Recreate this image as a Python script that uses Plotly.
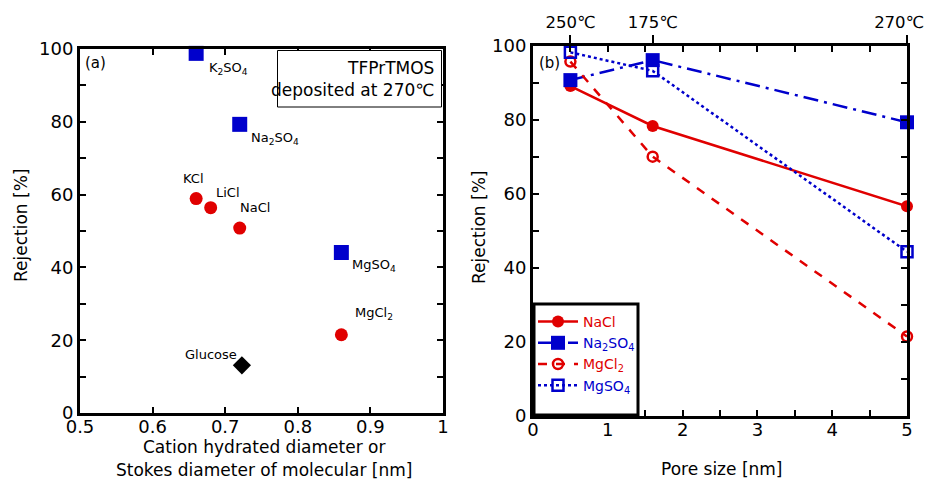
import plotly.graph_objects as go

# ---------------- data ----------------
# Panel (a)
sulfate_names = ["K<sub>2</sub>SO<sub>4</sub>", "Na<sub>2</sub>SO<sub>4</sub>", "MgSO<sub>4</sub>"]
sulfate_x = [0.66, 0.72, 0.86]
sulfate_y = [98.8, 79.3, 44.1]

chloride_names = ["KCl", "LiCl", "NaCl", "MgCl<sub>2</sub>"]
chloride_x = [0.66, 0.68, 0.72, 0.86]
chloride_y = [58.9, 56.4, 50.8, 21.5]

glucose_name = ["Glucose"]
glucose_x = [0.723]
glucose_y = [13.1]

# Panel (b)
pore_size = [0.5, 1.6, 5.0]
deposition_temp = ["250℃", "175℃", "270℃"]
nacl = [89.1, 78.3, 56.6]
na2so4 = [90.7, 96.1, 79.3]
mgcl2 = [95.7, 70.0, 21.4]
mgso4 = [98.2, 93.2, 44.3]

RED = "#E00000"
BLUE = "#0000CC"
FONT = "DejaVu Sans"
W, H = 928, 481

def px_x(p):
    return p / W

def px_y(p):
    return 1 - p / H

fig = go.Figure()

# ---------------- panel (a) ----------------
fig.add_trace(go.Scatter(x=sulfate_x, y=sulfate_y, mode="markers", xaxis="x", yaxis="y",
                         marker=dict(symbol="square", size=15, color=BLUE), showlegend=False,
                         cliponaxis=False))
fig.add_trace(go.Scatter(x=chloride_x, y=chloride_y, mode="markers", xaxis="x", yaxis="y",
                         marker=dict(symbol="circle", size=13, color=RED), showlegend=False,
                         cliponaxis=False))
fig.add_trace(go.Scatter(x=glucose_x, y=glucose_y, mode="markers", xaxis="x", yaxis="y",
                         marker=dict(symbol="diamond", size=14, color="black"), showlegend=False,
                         cliponaxis=False))

# ---------------- panel (b) ----------------
fig.add_trace(go.Scatter(x=pore_size, y=nacl, mode="lines+markers", xaxis="x2", yaxis="y2",
                         name=f"<span style='color:{RED}'>NaCl</span>",
                         line=dict(color=RED, width=2.5, dash="solid"),
                         marker=dict(symbol="circle", size=12, color=RED), cliponaxis=False))
fig.add_trace(go.Scatter(x=pore_size, y=na2so4, mode="lines+markers", xaxis="x2", yaxis="y2",
                         name=f"<span style='color:{BLUE}'>Na<sub>2</sub>SO<sub>4</sub></span>",
                         line=dict(color=BLUE, width=2.5, dash="longdashdot"),
                         marker=dict(symbol="square", size=14, color=BLUE), cliponaxis=False))
fig.add_trace(go.Scatter(x=pore_size, y=mgcl2, mode="lines+markers", xaxis="x2", yaxis="y2",
                         name=f"<span style='color:{RED}'>MgCl<sub>2</sub></span>",
                         line=dict(color=RED, width=2.5, dash="dash"),
                         marker=dict(symbol="circle-open", size=10, color=RED, line=dict(width=2.5)),
                         cliponaxis=False))
fig.add_trace(go.Scatter(x=pore_size, y=mgso4, mode="lines+markers", xaxis="x2", yaxis="y2",
                         name=f"<span style='color:{BLUE}'>MgSO<sub>4</sub></span>",
                         line=dict(color=BLUE, width=2.5, dash="dot"),
                         marker=dict(symbol="square-open", size=11, color=BLUE, line=dict(width=2.5)),
                         cliponaxis=False))
# invisible trace to carry the top (deposition temperature) axis
fig.add_trace(go.Scatter(x=pore_size, y=nacl, mode="markers", xaxis="x3", yaxis="y2",
                         marker=dict(opacity=0), showlegend=False, hoverinfo="skip"))

axis_common = dict(showline=True, linecolor="black", linewidth=3, mirror="ticks",
                   ticks="inside", ticklen=6, tickwidth=2, tickcolor="black",
                   showgrid=False, zeroline=False, automargin=False,
                   ticklabeloverflow="allow",
                   tickfont=dict(family=FONT, size=18, color="black"))
minor_y = dict(ticks="inside", tickvals=[10, 30, 50, 70, 90], ticklen=6,
               tickwidth=2, tickcolor="black")

# the right-most top label is nudged left (as in the reference) so it stays inside the page
top_ticktext = [t if i < len(deposition_temp) - 1 else t + "\u00a0\u00a0\u00a0"
                for i, t in enumerate(deposition_temp)]

fig.update_layout(
    width=W, height=H,
    margin=dict(l=0, r=0, t=0, b=0, autoexpand=False),
    paper_bgcolor="white", plot_bgcolor="white",
    font=dict(family=FONT, color="black"),
    xaxis=dict(domain=[px_x(80), px_x(443)], range=[0.5, 1.0], anchor="y",
               tickvals=[0.5, 0.6, 0.7, 0.8, 0.9, 1.0],
               ticktext=["0.5", "0.6", "0.7", "0.8", "0.9", "1"],
               ticklabelstandoff=-5, **axis_common),
    yaxis=dict(domain=[px_y(413), px_y(49)], range=[0, 100], anchor="x",
               tickvals=[0, 20, 40, 60, 80, 100], minor=minor_y, **axis_common),
    xaxis2=dict(domain=[px_x(533), px_x(907)], range=[0, 5], anchor="y2",
                tickvals=[0, 1, 2, 3, 4, 5],
                minor=dict(ticks="inside", tickvals=[0.5, 1.5, 2.5, 3.5, 4.5], ticklen=6,
                           tickwidth=2, tickcolor="black"),
                ticklabelstandoff=-4, **axis_common),
    yaxis2=dict(domain=[px_y(415.7), px_y(45.7)], range=[0, 100], anchor="x2",
                tickvals=[0, 20, 40, 60, 80, 100], minor=minor_y, **axis_common),
    xaxis3=dict(domain=[px_x(533), px_x(907)], range=[0, 5], anchor="y2", overlaying="x2",
                side="top", tickvals=pore_size, ticktext=top_ticktext,
                ticks="outside", ticklen=10, tickwidth=1.5, tickcolor="black",
                showline=False, showgrid=False, zeroline=False, automargin=False,
                ticklabeloverflow="allow",
                tickfont=dict(family=FONT, size=16.5, color="black")),
    legend=dict(x=px_x(533), y=px_y(306), xanchor="left", yanchor="top",
                bgcolor="rgba(0,0,0,0)", borderwidth=0,
                font=dict(family=FONT, size=14), tracegroupgap=0,
                itemwidth=40),
    showlegend=True,
)

# legend frame (extends down to the axis as in the reference)
fig.add_shape(type="rect", xref="paper", yref="paper",
              x0=px_x(534), x1=px_x(638), y0=px_y(415), y1=px_y(304),
              fillcolor="white", line=dict(color="black", width=3), layer="above")

# point labels in panel (a), offset in pixels from their points
label_specs = [
    (sulfate_names[0], sulfate_x[0], sulfate_y[0], "left", 11, -15),
    (sulfate_names[1], sulfate_x[1], sulfate_y[1], "left", 9, -14),
    (sulfate_names[2], sulfate_x[2], sulfate_y[2], "left", 9, -13),
    (chloride_names[0], chloride_x[0], chloride_y[0], "center", -3, 20),
    (chloride_names[1], chloride_x[1], chloride_y[1], "left", 3, 15),
    (chloride_names[2], chloride_x[2], chloride_y[2], "left", -2, 21),
    (chloride_names[3], chloride_x[3], chloride_y[3], "left", 12, 21),
    (glucose_name[0], glucose_x[0], glucose_y[0], "right", -3, 11),
]
for text, x, y, xa, dx, dy in label_specs:
    fig.add_annotation(x=x, y=y, xref="x", yref="y", text=text, showarrow=False,
                       xanchor=xa, yanchor="middle", xshift=dx, yshift=dy,
                       font=dict(family=FONT, size=13, color="black"))

# panel labels
fig.add_annotation(x=px_x(83), y=px_y(63), xref="paper", yref="paper", text="(a)",
                   showarrow=False, xanchor="left", yanchor="middle",
                   font=dict(family=FONT, size=15))
fig.add_annotation(x=px_x(537), y=px_y(63), xref="paper", yref="paper", text="(b)",
                   showarrow=False, xanchor="left", yanchor="middle",
                   font=dict(family=FONT, size=15))

# info box in panel (a)
fig.add_shape(type="rect", xref="paper", yref="paper",
              x0=px_x(277.5), x1=px_x(441.5), y0=px_y(107), y1=px_y(50.5),
              fillcolor="white", line=dict(color="black", width=1), layer="above")
fig.add_annotation(x=px_x(436), y=px_y(79), xref="paper", yref="paper",
                   text="TFPrTMOS<br>deposited at 270℃", align="right",
                   showarrow=False, xanchor="right", yanchor="middle",
                   font=dict(family=FONT, size=17))

# axis titles
TITLE_SIZE = 17
def title(text, x, y, angle=0):
    fig.add_annotation(x=px_x(x), y=px_y(y), xref="paper", yref="paper", text=text,
                       textangle=angle, showarrow=False, xanchor="center", yanchor="middle",
                       font=dict(family=FONT, size=TITLE_SIZE))

title("Rejection [%]", 21, 226, -90)
title("Rejection [%]", 479, 228, -90)
title("Cation hydrated diameter or", 264, 447)
title("Stokes diameter of molecular [nm]", 264, 470)
title("Pore size [nm]", 722, 469)

fig.write_html("out.html")
